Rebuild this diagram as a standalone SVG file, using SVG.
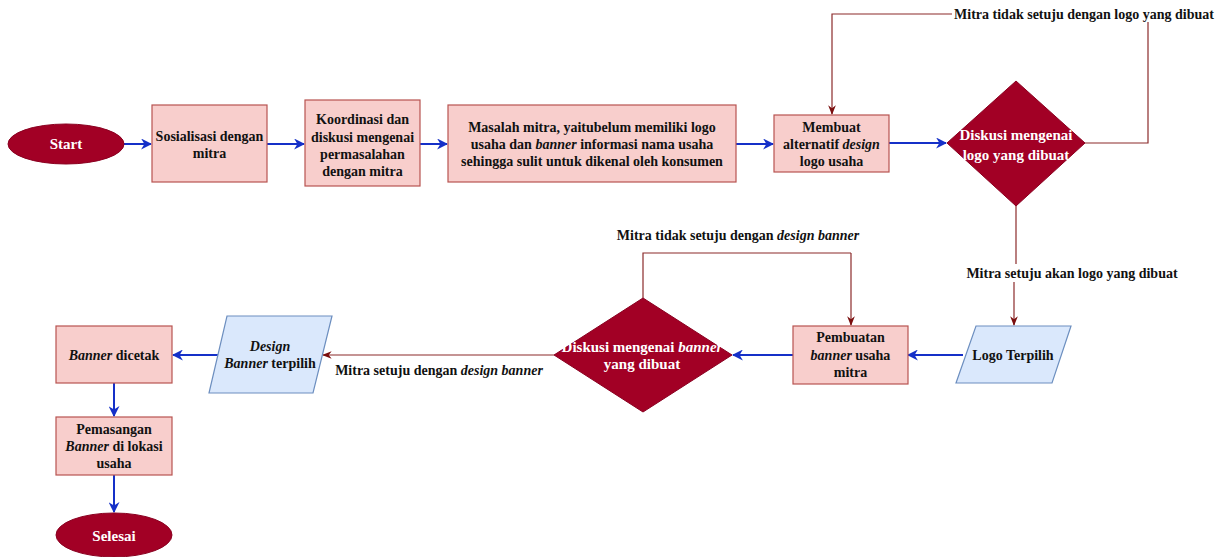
<svg xmlns="http://www.w3.org/2000/svg" width="1224" height="557" viewBox="0 0 1224 557">
<defs>
<marker id="ab" viewBox="0 0 10 10" refX="9" refY="5" markerWidth="5.5" markerHeight="5.5" orient="auto" markerUnits="strokeWidth"><path d="M0,0 L10,5 L0,10 L3,5 Z" fill="#1530c8"/></marker>
<marker id="ar" viewBox="0 0 10 10" refX="9" refY="5" markerWidth="8" markerHeight="8" orient="auto" markerUnits="strokeWidth"><path d="M0,1 L10,5 L0,9 L3,5 Z" fill="#7a0e0e"/></marker>
<style>
text{font-family:"Liberation Serif","Times New Roman",serif;font-weight:bold;font-size:14px;text-anchor:middle;fill:#111}
.w{fill:#fff;font-size:15px}
.box{fill:#f8cecc;stroke:#b85450;stroke-width:1.2}
.dark{fill:#a20025;stroke:#8a0020;stroke-width:1}
.par{fill:#dae8fc;stroke:#6c8ebf;stroke-width:1.2}
.b{stroke:#1530c8;stroke-width:2;fill:none;marker-end:url(#ab)}
.r{stroke:#8b2b2b;stroke-width:1.2;fill:none}
.ra{stroke:#8b2b2b;stroke-width:1.2;fill:none;marker-end:url(#ar)}
</style>
</defs>
<g id="connectors">
<path class="b" d="M124,144 H151"/>
<path class="b" d="M267,144 H304"/>
<path class="b" d="M420,144 H447"/>
<path class="b" d="M736,144 H773"/>
<path class="b" d="M889,143 H946"/>
<path class="r" d="M1085,143 H1148 V22"/>
<path class="ra" d="M952,14 H832 V114"/>
<path class="r" d="M1016,206 V264"/>
<path class="ra" d="M1014,282 V325"/>
<path class="b" d="M963,355 H908"/>
<path class="b" d="M793,355 H733"/>
<path class="r" d="M643,298 V253 H851"/>
<path class="ra" d="M851,253 V325"/>
<path class="ra" d="M554,355 H323"/>
<path class="b" d="M219,355 H173"/>
<path class="b" d="M114,383 V416"/>
<path class="b" d="M114,475 V512"/>
</g>
<g id="start"><ellipse class="dark" cx="66" cy="144" rx="58" ry="20"/><text class="w" x="66" y="149">Start</text></g>
<g id="sosialisasi"><rect class="box" x="152" y="105" width="115" height="77"/><text x="209.5" y="141">Sosialisasi dengan</text><text x="209.5" y="158">mitra</text></g>
<g id="koordinasi"><rect class="box" x="305" y="100" width="115" height="86"/><text x="362.5" y="124">Koordinasi dan</text><text x="362.5" y="142">diskusi mengenai</text><text x="362.5" y="159">permasalahan</text><text x="362.5" y="176">dengan mitra</text></g>
<g id="masalah"><rect class="box" x="448" y="105" width="288" height="77"/><text x="592" y="132">Masalah mitra, yaitubelum memiliki logo</text><text x="592" y="149">usaha dan <tspan font-style="italic">banner</tspan> informasi nama usaha</text><text x="592" y="166">sehingga sulit untuk dikenal oleh konsumen</text></g>
<g id="membuat"><rect class="box" x="774" y="115" width="115" height="57"/><text x="831.5" y="132">Membuat</text><text x="831.5" y="149">alternatif <tspan font-style="italic">design</tspan></text><text x="831.5" y="166">logo usaha</text></g>
<g id="diskusi-logo"><path class="dark" d="M1016,81 L1085,143 L1016,206 L947,143 Z"/><text class="w" x="1016" y="140">Diskusi mengenai</text><text class="w" x="1016" y="160">logo yang dibuat</text></g>
<g id="label-tidak-logo"><text x="1084" y="19">Mitra tidak setuju dengan logo yang dibuat</text></g>
<g id="label-setuju-logo"><text x="1072" y="278">Mitra setuju akan logo yang dibuat</text></g>
<g id="logo-terpilih"><path class="par" d="M976,326 H1071 L1052,383 H956 Z"/><text x="1013" y="360">Logo Terpilih</text></g>
<g id="pembuatan"><rect class="box" x="793" y="326" width="115" height="58"/><text x="850.5" y="342">Pembuatan</text><text x="850.5" y="360"><tspan font-style="italic">banner</tspan> usaha</text><text x="850.5" y="377">mitra</text></g>
<g id="diskusi-banner"><path class="dark" d="M643,298 L732,355 L643,412 L554,355 Z"/><text class="w" x="642" y="352">Diskusi mengenai <tspan font-style="italic">banner</tspan></text><text class="w" x="642" y="369">yang dibuat</text></g>
<g id="label-tidak-banner"><text x="738" y="240">Mitra tidak setuju dengan <tspan font-style="italic">design banner</tspan></text></g>
<g id="label-setuju-banner"><text x="439" y="375">Mitra setuju dengan <tspan font-style="italic">design banner</tspan></text></g>
<g id="design-banner"><path class="par" d="M227,316 H332 L313,393 H209 Z"/><text x="270" y="351" font-style="italic">Design</text><text x="270" y="368"><tspan font-style="italic">Banner</tspan> terpilih</text></g>
<g id="banner-dicetak"><rect class="box" x="56" y="326" width="116" height="57"/><text x="114" y="360"><tspan font-style="italic">Banner</tspan> dicetak</text></g>
<g id="pemasangan"><rect class="box" x="56" y="417" width="116" height="58"/><text x="114" y="434">Pemasangan</text><text x="114" y="451"><tspan font-style="italic">Banner</tspan> di lokasi</text><text x="114" y="468">usaha</text></g>
<g id="selesai"><ellipse class="dark" cx="114" cy="535" rx="58" ry="22"/><text class="w" x="114" y="541">Selesai</text></g>
</svg>
